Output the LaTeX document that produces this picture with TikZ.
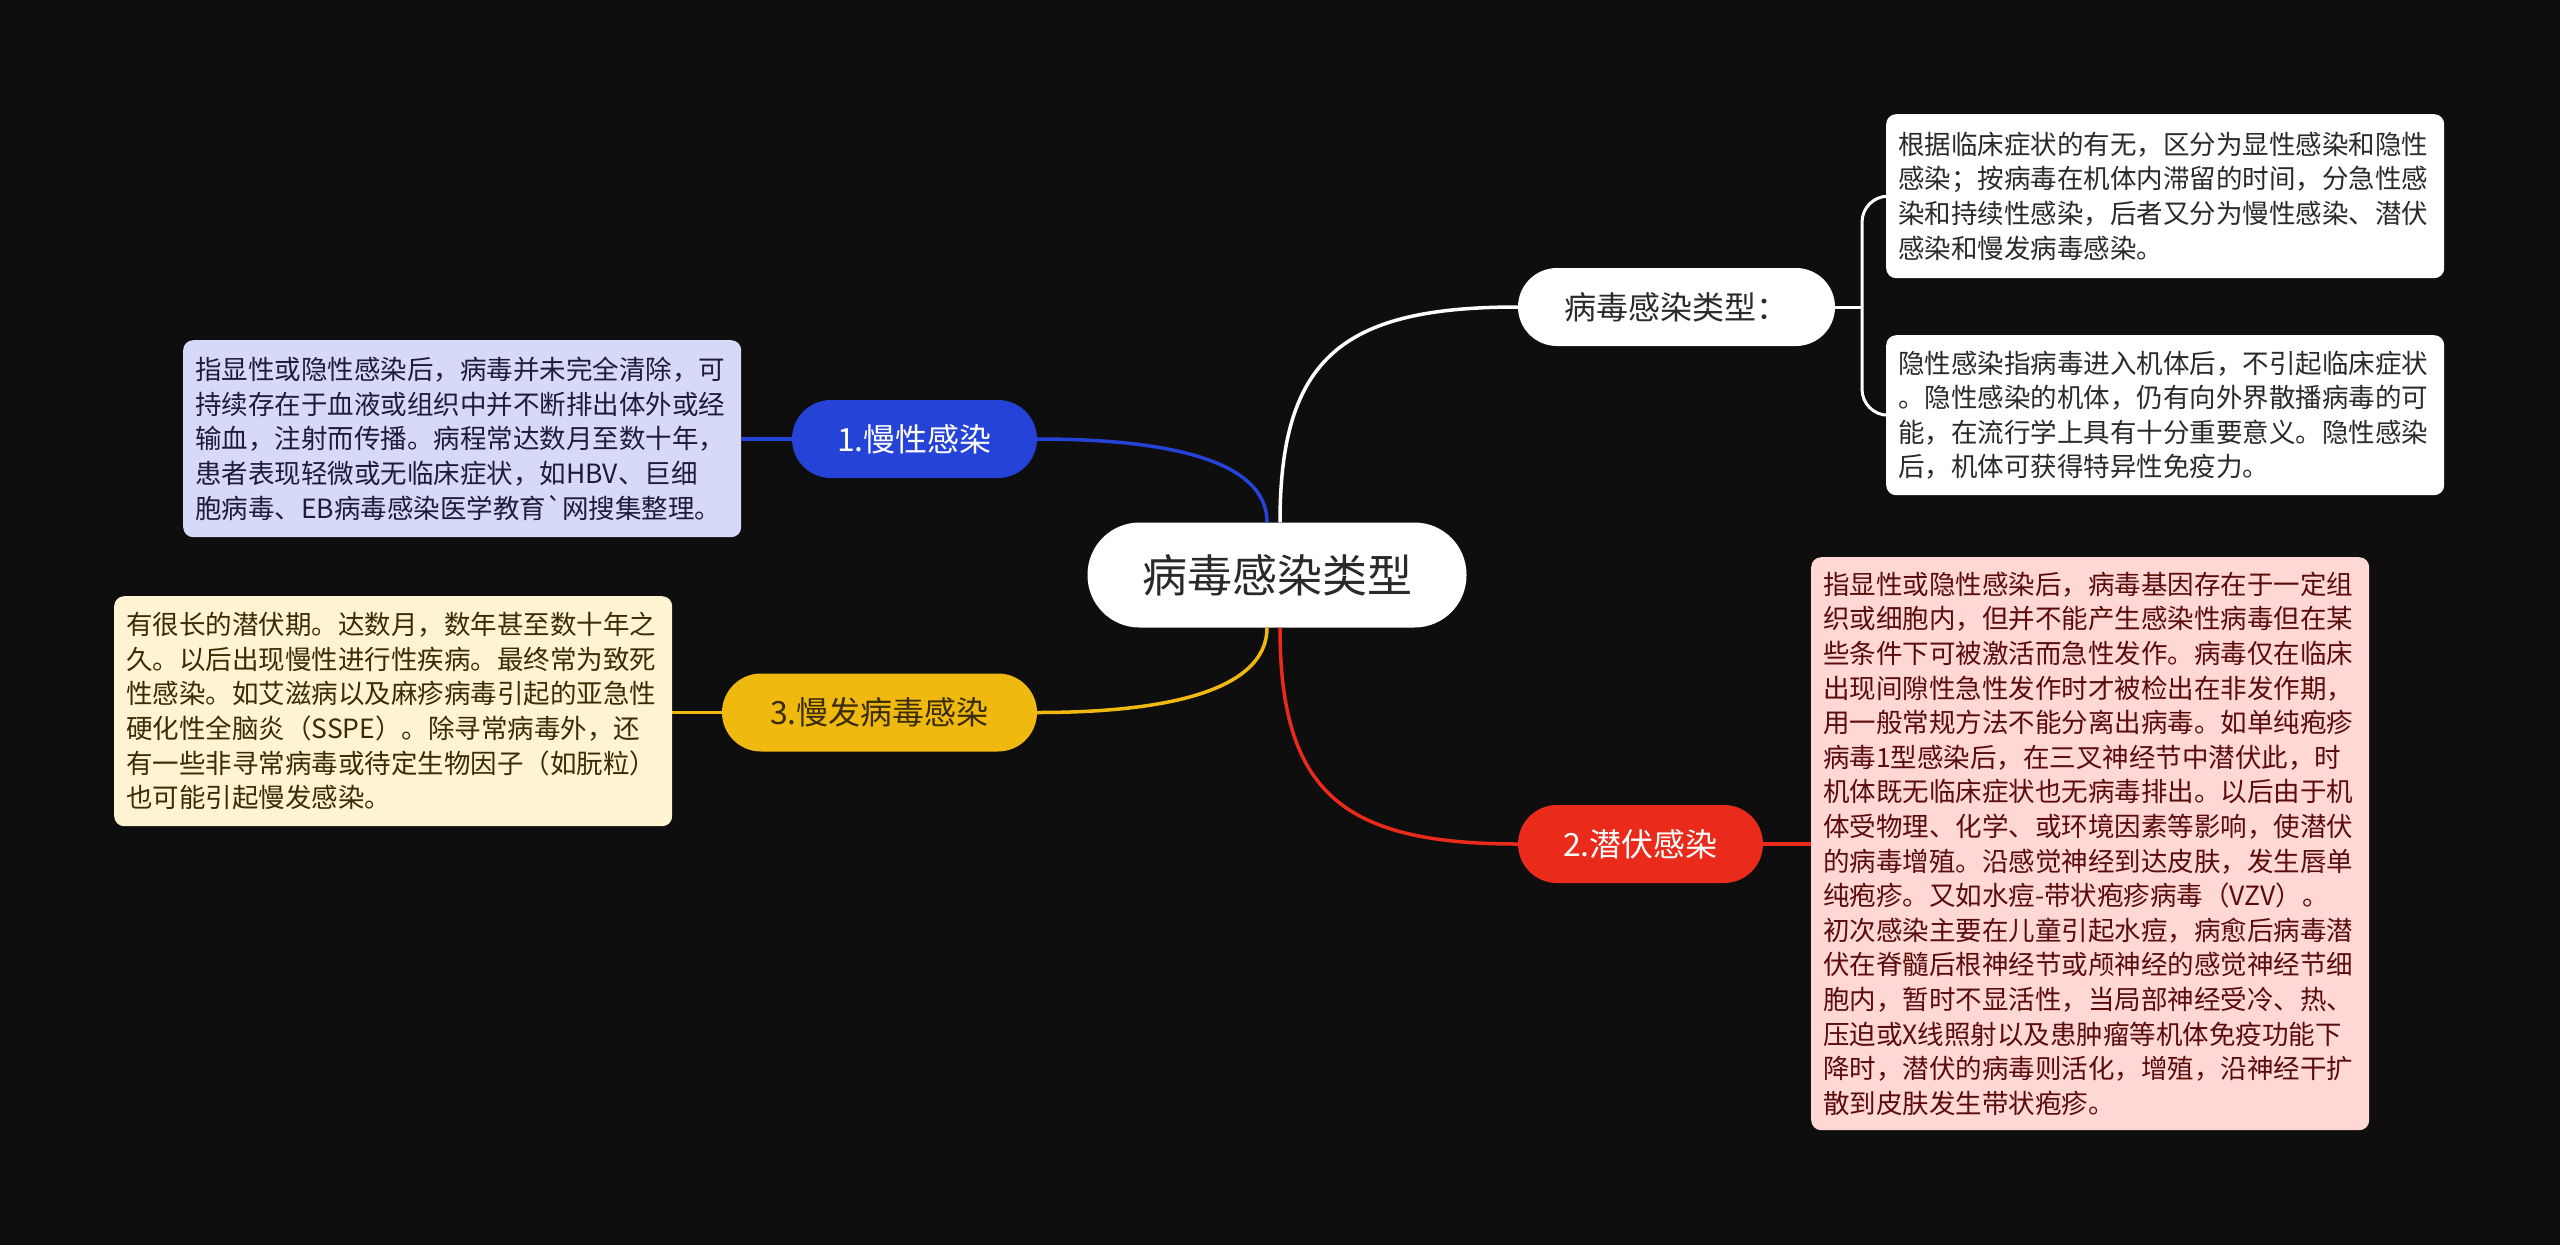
\documentclass[tikz,border=0pt]{standalone}
\usepackage{fontspec}
\setmainfont{Noto Sans CJK SC}
\newfontfamily\plaincjk{Noto Sans CJK SC}
\usetikzlibrary{calc}
\definecolor{bg}{HTML}{0E0E0E}
\definecolor{cblue}{HTML}{2543D6}
\definecolor{cyellow}{HTML}{F0B90F}
\definecolor{cred}{HTML}{EA2A1A}
\definecolor{fblue}{HTML}{D6D9F8}
\definecolor{fyellow}{HTML}{FFF4D2}
\definecolor{fred}{HTML}{FFD7D5}
\definecolor{tblue}{HTML}{1C1C3C}
\definecolor{tyellow}{HTML}{3A2C05}
\definecolor{tred}{HTML}{5A0C0C}
\definecolor{tdark}{HTML}{2A2A2A}
\begin{document}
\begin{tikzpicture}[x=1pt,y=-1pt,
  centernode/.style={fill=white, rounded corners=52pt, minimum width=379pt, minimum height=105pt, inner sep=0pt, text=tdark, font=\fontsize{45}{50}\selectfont},
  branch/.style={rounded corners=39pt, minimum height=78pt, inner sep=0pt, font=\fontsize{32}{36}\selectfont},
  tbox/.style={anchor=north west, rounded corners=10pt, text width=534pt, inner xsep=12pt, inner ysep=0pt, align=left, font=\fontsize{26.5}{34.6}\selectfont},
  conn/.style={line width=3.5pt},
]
\fill[bg] (0,0) rectangle (2560,1245);
\useasboundingbox (0,0) rectangle (2560,1245);

% central
\node[centernode] (c) at (1277,575) {病毒感染类型};

% branch nodes
\node[branch, fill=white, text=tdark, minimum width=317pt] (n0) at (1676.5,307) {病毒感染类型：};
\node[branch, fill=cblue, text=white, minimum width=245pt] (n1) at (914.5,439) {1.慢性感染};
\node[branch, fill=cyellow, text=tyellow, minimum width=315pt] (n3) at (879.5,712.5) {3.慢发病毒感染};
\node[branch, fill=cred, text=white, minimum width=245pt] (n2) at (1640.5,844) {2.潜伏感染};

% text boxes
\node[tbox, fill=white, text=tdark, minimum height=164pt] (t1) at (1886,114) {根据临床症状的有无，区分为显性感染和隐性\\感染；按病毒在机体内滞留的时间，分急性感\\染和持续性感染，后者又分为慢性感染、潜伏\\感染和慢发病毒感染。};
\node[tbox, fill=white, text=tdark, minimum height=160pt] (t2) at (1886,335) {隐性感染指病毒进入机体后，不引起临床症状\\。隐性感染的机体，仍有向外界散播病毒的可\\能，在流行学上具有十分重要意义。隐性感染\\后，机体可获得特异性免疫力。};
\node[tbox, fill=fblue, text=tblue, minimum height=197pt] (tb) at (183,340) {指显性或隐性感染后，病毒并未完全清除，可\\持续存在于血液或组织中并不断排出体外或经\\输血，注射而传播。病程常达数月至数十年，\\患者表现轻微或无临床症状，如HBV、巨细\\胞病毒、EB病毒感染医学教育{\plaincjk\char96}网搜集整理。};
\node[tbox, fill=fyellow, text=tyellow, minimum height=230pt] (ty) at (114,596) {有很长的潜伏期。达数月，数年甚至数十年之\\久。以后出现慢性进行性疾病。最终常为致死\\性感染。如艾滋病以及麻疹病毒引起的亚急性\\硬化性全脑炎（SSPE）。除寻常病毒外，还\\有一些非寻常病毒或待定生物因子（如朊粒）\\也可能引起慢发感染。};
\node[tbox, fill=fred, text=tred, minimum height=573pt] (tr) at (1811,557) {指显性或隐性感染后，病毒基因存在于一定组\\织或细胞内，但并不能产生感染性病毒但在某\\些条件下可被激活而急性发作。病毒仅在临床\\出现间隙性急性发作时才被检出在非发作期，\\用一般常规方法不能分离出病毒。如单纯疱疹\\病毒1型感染后，在三叉神经节中潜伏此，时\\机体既无临床症状也无病毒排出。以后由于机\\体受物理、化学、或环境因素等影响，使潜伏\\的病毒增殖。沿感觉神经到达皮肤，发生唇单\\纯疱疹。又如水痘-带状疱疹病毒（VZV）。\\初次感染主要在儿童引起水痘，病愈后病毒潜\\伏在脊髓后根神经节或颅神经的感觉神经节细\\胞内，暂时不显活性，当局部神经受冷、热、\\压迫或X线照射以及患肿瘤等机体免疫功能下\\降时，潜伏的病毒则活化，增殖，沿神经干扩\\散到皮肤发生带状疱疹。};

% main connectors
\coordinate (cl) at ($(c.north)+(-10,0)$);
\coordinate (cr) at ($(c.north)+(3,0)$);
\coordinate (bl) at ($(c.south)+(-10,0)$);
\coordinate (br) at ($(c.south)+(3,0)$);
\draw[conn, cblue] (n1.east) .. controls +(165,0) and +(0,-50) .. (cl);
\draw[conn, white] (cr) .. controls +(0,-165) and +(-175,0) .. (n0.west);
\draw[conn, cred] (br) .. controls +(0,165) and +(-175,0) .. (n2.west);
\draw[conn, cyellow] (n3.east) .. controls +(165,0) and +(0,50) .. (bl);

% leaf connectors
\draw[conn, cblue] (n1.west) -- (tb.east |- n1.west);
\draw[conn, cyellow] (n3.west) -- (ty.east |- n3.west);
\draw[conn, cred] (n2.east) -- (tr.west |- n2.east);

% bracket
\coordinate (bx) at (1862,307);
\draw[line width=3pt, white] (n0.east) -- (bx);
\draw[line width=3pt, white, rounded corners=26pt] (t1.west) -| (bx) |- (t2.west);
\end{tikzpicture}
\end{document}
